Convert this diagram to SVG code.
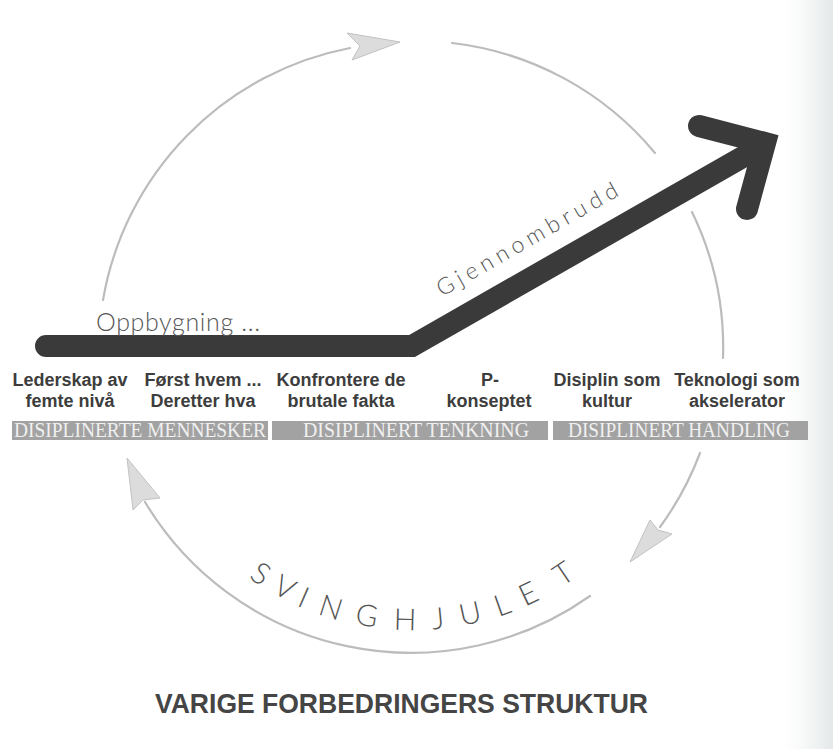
<svg xmlns="http://www.w3.org/2000/svg" width="833" height="749" viewBox="0 0 833 749">
<defs>
<style>
.arc{fill:none;stroke:#bcbcbc;stroke-width:2.2;stroke-linecap:round}
.ah{fill:#dcdcdc;stroke:#c2c2c2;stroke-width:1;stroke-linejoin:round}
.lbl{font-family:"Liberation Sans",Arial,sans-serif;font-weight:700;font-size:18px;fill:#3d3d3d;text-anchor:middle}
.ban{fill:#a2a2a2}
.bant{font-family:"Liberation Serif","Times New Roman",serif;font-size:21px;fill:#f0f0f0}
.thin{font-family:Lato,"Open Sans",sans-serif;font-weight:300;fill:#575757}
.sv{font-family:Lato,"Open Sans",sans-serif;font-weight:300;font-size:30px;fill:#555;text-anchor:middle}
</style>
<linearGradient id="edge" x1="0" y1="0" x2="1" y2="0">
<stop offset="0" stop-color="#eef1f1" stop-opacity="0"/>
<stop offset="1" stop-color="#e3e8e8" stop-opacity="1"/>
</linearGradient>
</defs>
<rect width="833" height="749" fill="#ffffff"/>
<rect x="785" y="0" width="48" height="749" fill="url(#edge)"/>

<g id="connectors">
<path class="arc" d="M103,300 A310,310 0 0 1 350,48"/>
<polygon class="ah" points="347,33 400,42 352,60 360,46"/>
<path class="arc" d="M452,43 A310,310 0 0 1 655,153"/>
<path class="arc" d="M692,212 A310,310 0 0 1 723,358"/>
<path class="arc" d="M700,453 A310,310 0 0 1 660,527"/>
<polygon class="ah" points="650,520 658,530 672,534 630,562"/>
<path class="arc" d="M590,596 A310,310 0 0 1 145,502"/>
<polygon class="ah" points="127,458 160,498 143,500 133,510"/>
</g>

<g id="main-arrow">
<path d="M46,346 L412,346 L755,150" fill="none" stroke="#3a3a3a" stroke-width="22" stroke-linecap="round" stroke-linejoin="miter"/>
<path d="M699,126 L765,143 L747,209" fill="none" stroke="#3a3a3a" stroke-width="22" stroke-linecap="round" stroke-linejoin="miter"/>
</g>

<g id="oppbygning">
<text class="thin" x="96" y="331" font-size="25" textLength="164" lengthAdjust="spacing">Oppbygning ...</text>
</g>
<g id="gjennombrudd">
<text class="thin" font-size="23" transform="translate(442,297) rotate(-29.8)" textLength="205" lengthAdjust="spacing">Gjennombrudd</text>
</g>

<g id="col1"><text class="lbl" x="70" y="386">Lederskap av</text><text class="lbl" x="70" y="407">femte nivå</text></g>
<g id="col2"><text class="lbl" x="203" y="386">Først hvem ...</text><text class="lbl" x="203" y="407">Deretter hva</text></g>
<g id="col3"><text class="lbl" x="341" y="386">Konfrontere de</text><text class="lbl" x="341" y="407">brutale fakta</text></g>
<g id="col4"><text class="lbl" x="490" y="386">P-</text><text class="lbl" x="489" y="407">konseptet</text></g>
<g id="col5"><text class="lbl" x="607" y="386">Disiplin som</text><text class="lbl" x="607" y="407">kultur</text></g>
<g id="col6"><text class="lbl" x="737" y="386">Teknologi som</text><text class="lbl" x="737" y="407">akselerator</text></g>

<g id="band1"><rect class="ban" x="12" y="421" width="256" height="19"/><text class="bant" x="14" y="437" textLength="252" lengthAdjust="spacingAndGlyphs">DISIPLINERTE MENNESKER</text></g>
<g id="band2"><rect class="ban" x="272" y="421" width="276" height="19"/><text class="bant" x="303" y="437" textLength="226" lengthAdjust="spacingAndGlyphs">DISIPLINERT TENKNING</text></g>
<g id="band3"><rect class="ban" x="553" y="421" width="255" height="19" fill="#969696"/><text class="bant" x="568" y="437" textLength="222" lengthAdjust="spacingAndGlyphs">DISIPLINERT HANDLING</text></g>

<g id="svinghjulet">
<text class="sv" transform="translate(261,573) rotate(34)" y="11">S</text>
<text class="sv" transform="translate(285,587) rotate(28)" y="11">V</text>
<text class="sv" transform="translate(304,597) rotate(23.5)" y="11">I</text>
<text class="sv" transform="translate(331,607) rotate(17.5)" y="11">N</text>
<text class="sv" transform="translate(367,615) rotate(9.5)" y="11">G</text>
<text class="sv" transform="translate(405,619) rotate(1.5)" y="11">H</text>
<text class="sv" transform="translate(438,618) rotate(-5.5)" y="11">J</text>
<text class="sv" transform="translate(470,613) rotate(-12.5)" y="11">U</text>
<text class="sv" transform="translate(502,604) rotate(-19.5)" y="11">L</text>
<text class="sv" transform="translate(528,593) rotate(-25.5)" y="11">E</text>
<text class="sv" transform="translate(563,573) rotate(-34)" y="11">T</text>
</g>

<g id="title">
<text x="155" y="713" font-family="Liberation Sans, Arial, sans-serif" font-weight="700" font-size="28" fill="#454545" textLength="493" lengthAdjust="spacingAndGlyphs">VARIGE FORBEDRINGERS STRUKTUR</text>
</g>
</svg>
